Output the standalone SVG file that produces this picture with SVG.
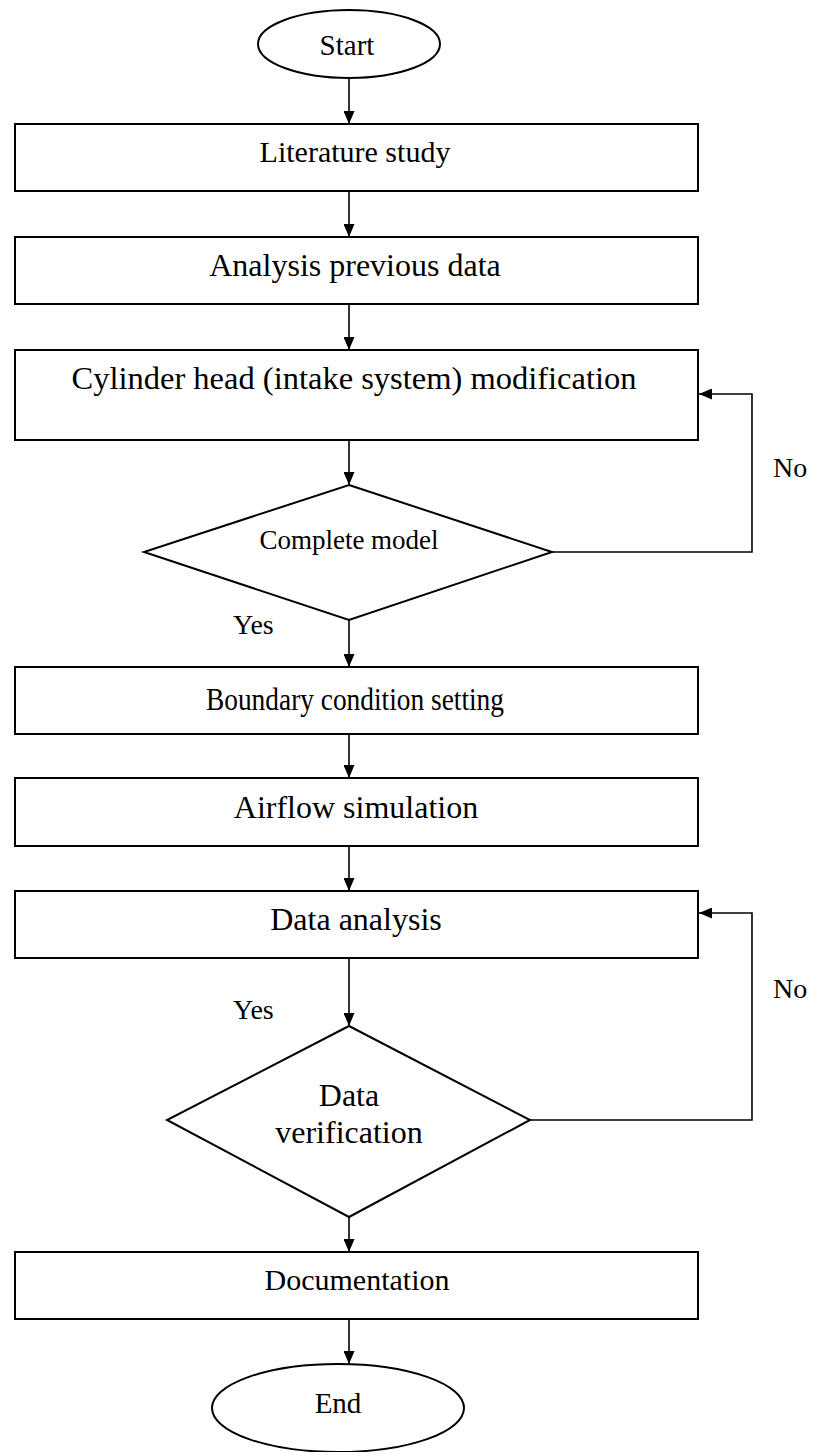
<svg xmlns="http://www.w3.org/2000/svg" width="814" height="1452" viewBox="0 0 814 1452">
<style>
.box{fill:#fff;stroke:#000;stroke-width:2}
.ln{fill:none;stroke:#000;stroke-width:1.6}
.t{font-family:"Liberation Serif","Times New Roman",serif;fill:#000;text-anchor:middle}
.lbl{font-family:"Liberation Serif","Times New Roman",serif;fill:#000;font-size:28px}
</style>
<defs>
<marker id="arr" markerUnits="userSpaceOnUse" markerWidth="13" markerHeight="11" refX="13" refY="5.5" orient="auto">
<path d="M0,0 L13,5.5 L0,11 z" fill="#000"/>
</marker>
</defs>
<rect width="814" height="1452" fill="#fff"/>
<g id="connectors">
<line class="ln" x1="349" y1="78" x2="349" y2="124" marker-end="url(#arr)"/>
<line class="ln" x1="349" y1="191" x2="349" y2="237" marker-end="url(#arr)"/>
<line class="ln" x1="349" y1="304" x2="349" y2="350" marker-end="url(#arr)"/>
<line class="ln" x1="349" y1="440" x2="349" y2="485" marker-end="url(#arr)"/>
<polyline class="ln" points="552,552 752,552 752,394 699,394" marker-end="url(#arr)"/>
<line class="ln" x1="349" y1="620" x2="349" y2="667" marker-end="url(#arr)"/>
<line class="ln" x1="349" y1="734" x2="349" y2="778" marker-end="url(#arr)"/>
<line class="ln" x1="349" y1="846" x2="349" y2="891" marker-end="url(#arr)"/>
<line class="ln" x1="349" y1="958" x2="349" y2="1026" marker-end="url(#arr)"/>
<polyline class="ln" points="530,1120 752,1120 752,913 699,913" marker-end="url(#arr)"/>
<line class="ln" x1="349" y1="1217" x2="349" y2="1252" marker-end="url(#arr)"/>
<line class="ln" x1="349" y1="1319" x2="349" y2="1364" marker-end="url(#arr)"/>
<text class="lbl" x="773" y="477">No</text>
<text class="lbl" x="233" y="634">Yes</text>
<text class="lbl" x="773" y="998">No</text>
<text class="lbl" x="233" y="1019">Yes</text>
</g>
<g id="start">
<ellipse class="box" cx="349" cy="44" rx="91" ry="34"/>
<text class="t" x="347" y="55" font-size="29">Start</text>
</g>
<g id="literature">
<rect class="box" x="15" y="124" width="683" height="67"/>
<text class="t" x="355" y="162" font-size="30">Literature study</text>
</g>
<g id="analysis">
<rect class="box" x="15" y="237" width="683" height="67"/>
<text class="t" x="355" y="276" font-size="32">Analysis previous data</text>
</g>
<g id="cylinder">
<rect class="box" x="15" y="350" width="683" height="90"/>
<text class="t" x="354" y="389" font-size="32.5">Cylinder head (intake system) modification</text>
</g>
<g id="complete">
<polygon class="box" points="349,485 552,552 349,620 144,552"/>
<text class="t" x="349" y="549" font-size="27">Complete model</text>
</g>
<g id="boundary">
<rect class="box" x="15" y="667" width="683" height="67"/>
<text class="t" x="355" y="710" font-size="31" textLength="298" lengthAdjust="spacingAndGlyphs">Boundary condition setting</text>
</g>
<g id="airflow">
<rect class="box" x="15" y="778" width="683" height="68"/>
<text class="t" x="356" y="818" font-size="32">Airflow simulation</text>
</g>
<g id="dataanalysis">
<rect class="box" x="15" y="891" width="683" height="67"/>
<text class="t" x="356" y="930" font-size="32">Data analysis</text>
</g>
<g id="verification">
<polygon class="box" points="349,1026 530,1120 349,1217 167,1120"/>
<text class="t" x="349" y="1106" font-size="32">Data</text>
<text class="t" x="349" y="1143" font-size="32">verification</text>
</g>
<g id="documentation">
<rect class="box" x="15" y="1252" width="683" height="67"/>
<text class="t" x="357" y="1290" font-size="30">Documentation</text>
</g>
<g id="end">
<ellipse class="box" cx="338" cy="1408" rx="126" ry="44"/>
<text class="t" x="338" y="1413" font-size="29">End</text>
</g>
</svg>
